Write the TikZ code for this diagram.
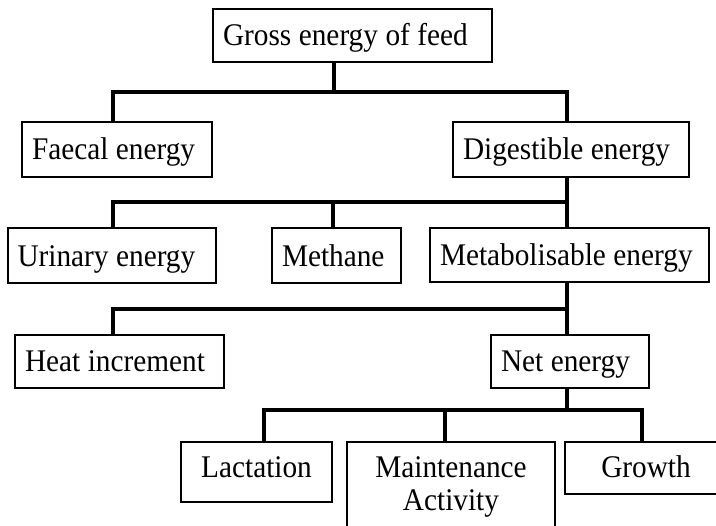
\documentclass[tikz,border=0pt]{standalone}
\usepackage{fontspec}
\setmainfont{Liberation Serif}[FakeStretch=0.93]
\newcommand\tightsp{\spaceskip=7.5pt plus 2pt minus 1pt\relax}
\begin{document}
\begin{tikzpicture}[x=1pt,y=-1pt,
  bx/.style={draw, line width=2pt, inner xsep=10pt, inner ysep=0pt,
    text height=20.8pt, text depth=0pt, align=left,
    font=\fontsize{31.5}{33}\selectfont, execute at begin node=\tightsp},
  cbx/.style={bx, align=center},
  conn/.style={line width=3.3pt, line cap=rect}]
\useasboundingbox (0,0) rectangle (716,526);
\clip (0,0) rectangle (716,526);
% boxes
\node[bx, text width=259pt, minimum height=53pt] (gross) at (352.5,35.5) {Gross energy of feed};
\node[bx, text width=170pt, minimum height=55pt] (faecal) at (117,149.5) {Faecal energy};
\node[bx, text width=216pt, minimum height=55pt] (digest) at (571,149.5) {Digestible energy};
\node[bx, text width=188pt, minimum height=55pt] (urinary) at (111.5,256) {Urinary energy};
\node[bx, text width=109pt, minimum height=55pt] (methane) at (336.5,256) {Methane};
\node[bx, text width=259pt, minimum height=54pt] (metab) at (569.5,255.5) {Metabolisable energy};
\node[bx, text width=189pt, minimum height=53pt] (heat) at (119.5,361.5) {Heat increment};
\node[bx, text width=138pt, minimum height=53pt] (net) at (570,361.5) {Net energy};
\node[cbx, anchor=north, inner ysep=10pt, text height=26pt, text depth=14pt, text width=131pt] (lact) at (256.5,441) {Lactation};
\node[cbx, anchor=north, inner ysep=10pt, text height=26pt, text depth=6pt, text width=142pt] (growth) at (646,441) {Growth};
\node[draw, line width=2pt, anchor=north, inner xsep=10pt, inner ysep=15pt, align=center,
  text width=188pt, font=\fontsize{31.5}{33}\selectfont] (maint) at (451,441) {Maintenance\\Activity};
% junction coordinates
\coordinate (a0) at (334,92);
\coordinate (a1) at (113,92);
\coordinate (a2) at (567,92);
\coordinate (b1) at (113,202);
\coordinate (b2) at (567,202);
\coordinate (b3) at (333,202);
\coordinate (c1) at (113,309);
\coordinate (c2) at (567,309);
\coordinate (d1) at (264,410);
\coordinate (d2) at (445,410);
\coordinate (d3) at (642,410);
\coordinate (d4) at (567,410);
% connectors
\draw[conn] (gross.south -| a0) -- (a0);
\draw[conn] (faecal.north -| a1) -- (a1) -- (a2) -- (digest.north -| a2);
\draw[conn] (digest.south -| b2) -- (metab.north -| b2);
\draw[conn] (urinary.north -| b1) -- (b1) -- (b2);
\draw[conn] (methane.north -| b3) -- (b3);
\draw[conn] (metab.south -| c2) -- (net.north -| c2);
\draw[conn] (heat.north -| c1) -- (c1) -- (c2);
\draw[conn] (net.south -| d4) -- (d4);
\draw[conn] (lact.north -| d1) -- (d1) -- (d3) -- (growth.north -| d3);
\draw[conn] (maint.north -| d2) -- (d2);
\end{tikzpicture}
\end{document}
